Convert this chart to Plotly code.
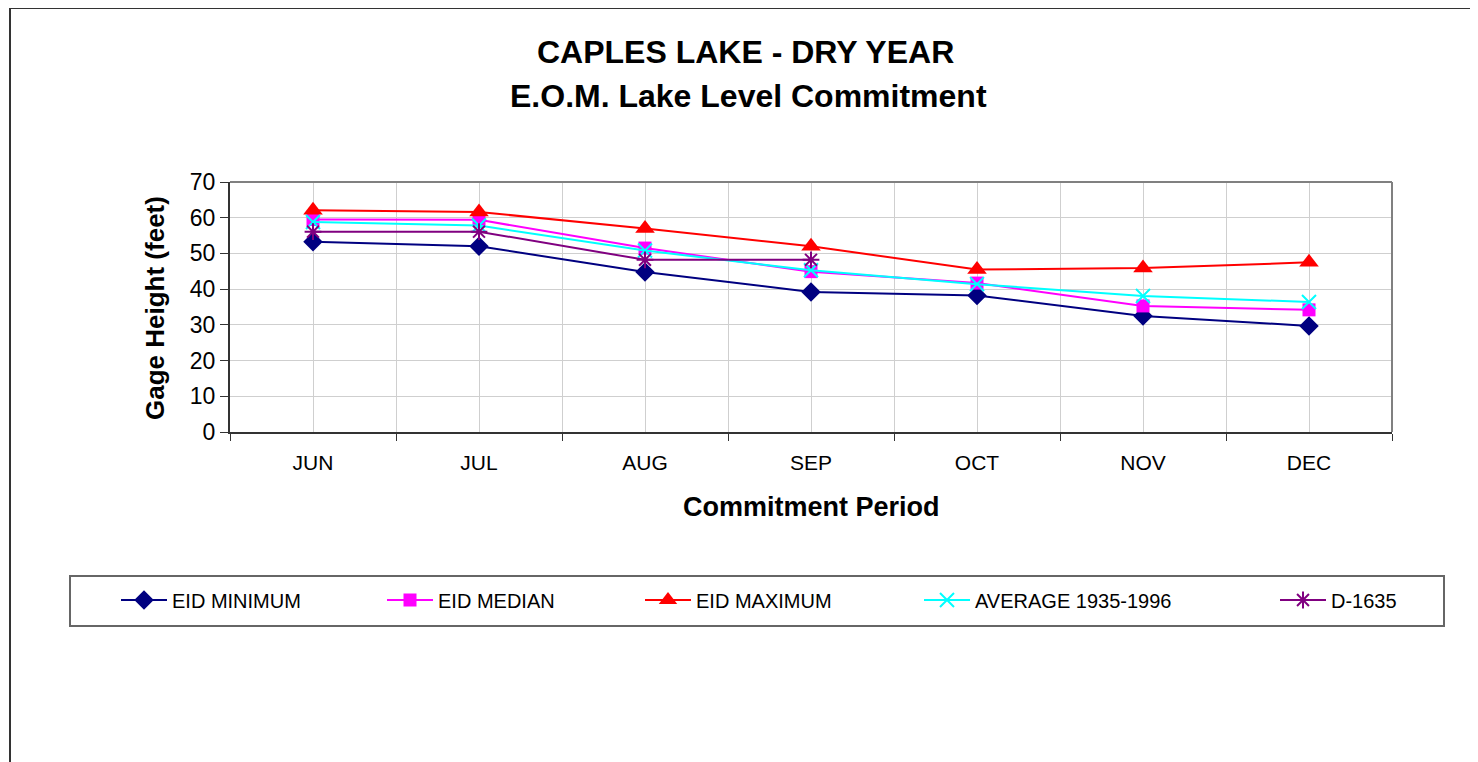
import plotly.graph_objects as go

months = ["JUN", "JUL", "AUG", "SEP", "OCT", "NOV", "DEC"]
eid_minimum = [53.3, 52.0, 44.8, 39.2, 38.2, 32.5, 29.7]
eid_median = [59.5, 59.4, 51.5, 44.9, 41.7, 35.3, 34.2]
eid_maximum = [62.1, 61.6, 57.0, 52.0, 45.5, 45.9, 47.5]
average_1935_1996 = [58.8, 57.8, 50.8, 45.3, 41.4, 38.1, 36.4]
d_1635 = [56.1, 56.1, 48.2, 48.2]

y_ticks = [0, 10, 20, 30, 40, 50, 60, 70]

# page body has an 8px margin; figure fills the rest of the 1478x762 window
OFF = 8
W, H = 1478 - OFF, 762 - OFF
FONT = "Liberation Sans, Arial, sans-serif"

def px(x):
    return (x - OFF) / W

def py(y):
    return 1 - (y - OFF) / H

xs = list(range(len(months)))

series = [
    ("EID MINIMUM", eid_minimum, "#000080", "diamond", 15, None),
    ("EID MEDIAN", eid_median, "#FF00FF", "square", 13, None),
    ("EID MAXIMUM", eid_maximum, "#FF0000", "triangle-up", 17, None),
    ("AVERAGE 1935-1996", average_1935_1996, "#00FFFF", "x-thin-open", 14, 2),
    ("D-1635", d_1635, "#800080", "asterisk-open", 14, 2),
]
legend_x = [116, 382, 640, 919, 1275]

fig = go.Figure()
for i, (name, vals, color, sym, size, mlw) in enumerate(series):
    marker = dict(symbol=sym, size=size, color=color)
    if mlw:
        marker["line"] = dict(color=color, width=mlw)
    fig.add_trace(go.Scatter(
        x=xs[:len(vals)], y=vals, name=name, mode="lines+markers",
        line=dict(color=color, width=2), marker=marker,
        legend="legend" if i == 0 else f"legend{i+1}",
    ))

layout_legends = {}
for i, lx in enumerate(legend_x):
    key = "legend" if i == 0 else f"legend{i+1}"
    layout_legends[key] = dict(
        x=px(lx), y=py(600), xanchor="left", yanchor="middle",
        xref="paper", yref="paper", orientation="h",
        bgcolor="rgba(0,0,0,0)", borderwidth=0, itemwidth=46,
        font=dict(family=FONT, size=20, color="#000000"),
    )

fig.update_layout(
    width=W, height=H,
    margin=dict(l=0, r=0, t=0, b=0, autoexpand=False),
    paper_bgcolor="white", plot_bgcolor="white",
    showlegend=True,
    font=dict(family=FONT, color="#000000"),
    xaxis=dict(
        domain=[px(230), px(1392)], range=[-0.5, len(months) - 0.5],
        tickvals=xs, ticktext=months, ticks="", ticklabelstandoff=11,
        showgrid=True, gridcolor="#cfcfcf", gridwidth=1,
        showline=True, linecolor="#333333", linewidth=2,
        minor=dict(dtick=1, tick0=-0.5, showgrid=True, gridcolor="#cfcfcf",
                   ticks="outside", ticklen=7, tickcolor="#333333", tickwidth=1),
        tickfont=dict(family=FONT, size=21), zeroline=False, fixedrange=True,
        automargin=False,
    ),
    yaxis=dict(
        domain=[py(432), py(182)], range=[0, 70],
        tickvals=y_ticks, ticks="outside", ticklen=8, tickcolor="#333333",
        showgrid=True, gridcolor="#cfcfcf", gridwidth=1,
        showline=True, linecolor="#333333", linewidth=2,
        tickfont=dict(family=FONT, size=23), zeroline=False, fixedrange=True,
        automargin=False,
    ),
    **layout_legends,
)

shapes = [
    # chart border
    dict(type="rect", xref="paper", yref="paper", x0=px(10), x1=px(1500),
         y0=py(790), y1=py(8), line=dict(color="#333333", width=2)),
    # plot area top/right border
    dict(type="line", xref="paper", yref="paper", x0=px(230), x1=px(1392),
         y0=py(182), y1=py(182), line=dict(color="#808080", width=2)),
    dict(type="line", xref="paper", yref="paper", x0=px(1392), x1=px(1392),
         y0=py(182), y1=py(432), line=dict(color="#808080", width=2)),
    # legend box
    dict(type="rect", xref="paper", yref="paper", x0=px(70), x1=px(1444),
         y0=py(626), y1=py(576), line=dict(color="#666666", width=2)),
]
fig.update_layout(shapes=shapes)

annotations = [
    dict(text="<b>CAPLES LAKE - DRY YEAR</b>", x=px(745), y=py(52),
         font=dict(family=FONT, size=32)),
    dict(text="<b>E.O.M. Lake Level Commitment</b>", x=px(748), y=py(96),
         font=dict(family=FONT, size=32)),
    dict(text="<b>Commitment Period</b>", x=px(811), y=py(507),
         font=dict(family=FONT, size=27)),
    dict(text="<b>Gage Height (feet)</b>", x=px(155), y=py(308), textangle=-90,
         font=dict(family=FONT, size=26)),
]
for a in annotations:
    a.update(xref="paper", yref="paper", showarrow=False,
             xanchor="center", yanchor="middle")
fig.update_layout(annotations=annotations)

fig.write_html("out.html")
